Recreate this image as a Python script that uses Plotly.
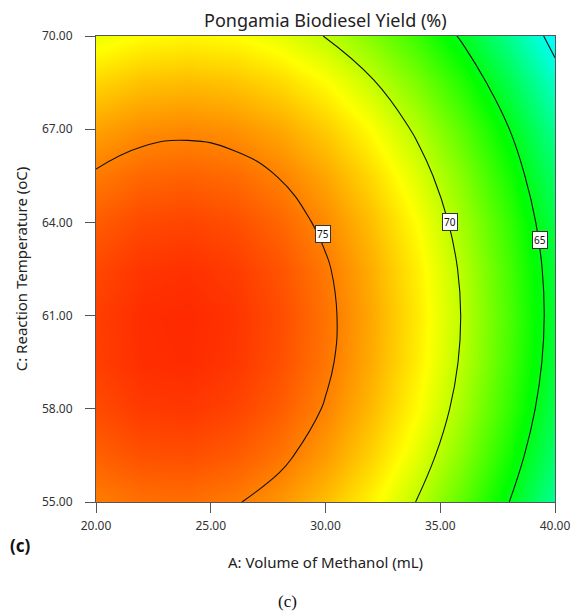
import plotly.graph_objects as go

# A: Volume of Methanol (mL) grid
volume_methanol = [20, 22, 24, 26, 28, 30, 32, 34, 36, 38, 40]
# C: Reaction Temperature (oC) grid
reaction_temp = [55, 56.5, 58, 59.5, 61, 62.5, 64, 65.5, 67, 68.5, 70]
# Pongamia biodiesel yield (%) read from the response surface (rows = temperature)
yield_c55 = [75.05, 75.42, 75.47, 75.13, 74.41, 73.30, 71.81, 69.93, 67.66, 65.01, 61.97]
yield_c565 = [75.86, 76.31, 76.37, 76.05, 75.34, 74.24, 72.76, 70.89, 68.64, 66.00, 62.98]
yield_c58 = [76.45, 76.91, 76.99, 76.68, 75.98, 74.90, 73.43, 71.58, 69.34, 66.71, 63.70]
yield_c595 = [76.76, 77.24, 77.32, 77.02, 76.34, 75.27, 73.82, 71.98, 69.75, 67.14, 64.14]
yield_c61 = [76.79, 77.27, 77.37, 77.09, 76.42, 75.36, 73.92, 72.09, 69.88, 67.28, 64.30]
yield_c625 = [76.53, 77.03, 77.14, 76.87, 76.21, 75.17, 73.74, 71.93, 69.73, 67.14, 64.17]
yield_c64 = [75.98, 76.50, 76.62, 76.37, 75.72, 74.69, 73.28, 71.48, 69.29, 66.72, 63.76]
yield_c655 = [75.16, 75.68, 75.82, 75.58, 74.95, 73.93, 72.53, 70.74, 68.57, 66.01, 63.07]
yield_c67 = [74.05, 74.59, 74.74, 74.51, 73.89, 72.89, 71.50, 69.72, 67.56, 65.02, 62.09]
yield_c685 = [72.65, 73.21, 73.37, 73.15, 72.55, 71.56, 70.18, 68.42, 66.28, 63.74, 60.83]
yield_c70 = [70.98, 71.54, 71.72, 71.52, 70.93, 69.95, 68.59, 66.84, 64.71, 62.19, 59.28]
yield_grid = [yield_c55, yield_c565, yield_c58, yield_c595, yield_c61, yield_c625,
              yield_c64, yield_c655, yield_c67, yield_c685, yield_c70]

# contour levels drawn
contour_start, contour_end, contour_step = 60, 75, 5
# boxed contour labels
label_texts = ["75", "70", "65"]
label_A = [29.87, 35.43, 39.33]
label_C = [63.63, 64.01, 63.43]

x_ticks = [20, 25, 30, 35, 40]
y_ticks = [55, 58, 61, 64, 67, 70]

# colour ramp anchor values (yield %) : blue, cyan, green, yellow, red
ramp_values = [53.5, 59.5, 65.5, 71.5, 78.5]
ramp_colors = ["#0000ff", "#00ffff", "#00ff00", "#ffff00", "#ff0000"]

FONT = "Noto Sans"
zmin, zmax = ramp_values[0], ramp_values[-1]
colorscale = [[(v - zmin) / (zmax - zmin), c] for v, c in zip(ramp_values, ramp_colors)]

fig = go.Figure()
fig.add_trace(go.Contour(
    x=volume_methanol, y=reaction_temp, z=yield_grid,
    colorscale=colorscale, zmin=zmin, zmax=zmax, showscale=False,
    contours=dict(start=contour_start, end=contour_end, size=contour_step,
                  coloring="heatmap", showlabels=False),
    line=dict(color="#111111", width=1.1, smoothing=1.3),
    hoverinfo="skip",
))

for t, a, c in zip(label_texts, label_A, label_C):
    fig.add_annotation(x=a, y=c, xref="x", yref="y", text=t, showarrow=False,
                       font=dict(family=FONT, size=10, color="#111"),
                       bgcolor="white", bordercolor="#333", borderwidth=1, borderpad=1)

axis_common = dict(showline=True, linecolor="#555", linewidth=1, mirror=True,
                   ticks="outside", ticklen=10, tickcolor="#555", tickwidth=1,
                   showgrid=False, zeroline=False, tickformat=".2f",
                   tickfont=dict(family=FONT, size=12, color="#333"))

fig.update_xaxes(range=[20, 40], tickvals=x_ticks, ticklabelstandoff=3, **axis_common)
fig.update_yaxes(range=[55, 70], tickvals=y_ticks, ticklabelstandoff=10, **axis_common)

W, H = 582, 616
ml, mr, mt, mb = 96, 19, 36, 114
pw, ph = W - ml - mr, H - mt - mb

def px(xp):
    return (xp - ml) / pw

def py(yp):
    return (H - mb - yp) / ph

fig.add_annotation(x=0.5, y=py(20), xref="paper", yref="paper",
                   text="Pongamia Biodiesel Yield (%)", showarrow=False,
                   font=dict(family=FONT, size=18, color="#222"),
                   xanchor="center", yanchor="middle")
fig.add_annotation(x=0.5, y=py(562), xref="paper", yref="paper",
                   text="A: Volume of Methanol (mL)", showarrow=False,
                   font=dict(family=FONT, size=15, color="#222"),
                   xanchor="center", yanchor="middle")
fig.add_annotation(x=px(20), y=0.5, xref="paper", yref="paper",
                   text="C: Reaction Temperature (oC)", showarrow=False, textangle=-90,
                   font=dict(family=FONT, size=15, color="#222"),
                   xanchor="center", yanchor="middle")
fig.add_annotation(x=px(19), y=py(545), xref="paper", yref="paper",
                   text="<b>(c)</b>", showarrow=False,
                   font=dict(family=FONT, size=17, color="#111"),
                   xanchor="center", yanchor="middle")
fig.add_annotation(x=px(291), y=py(601), xref="paper", yref="paper",
                   text="(c)", showarrow=False,
                   font=dict(family="Liberation Serif", size=17, color="#111"),
                   xanchor="center", yanchor="middle")

fig.update_layout(width=W, height=H, margin=dict(l=ml, r=mr, t=mt, b=mb),
                  paper_bgcolor="white", plot_bgcolor="white", showlegend=False)

fig.write_html("out.html")
